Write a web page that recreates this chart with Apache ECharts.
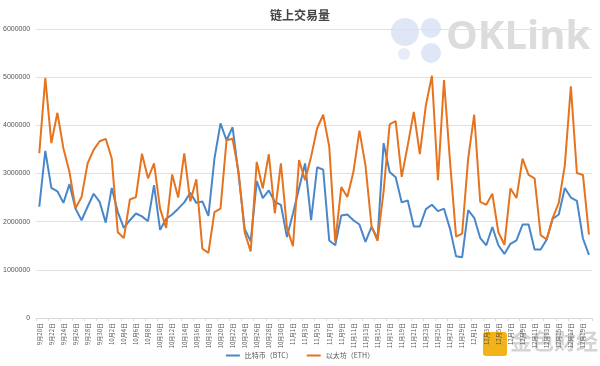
<!DOCTYPE html>
<html><head><meta charset="utf-8">
<script src="https://cdn.jsdelivr.net/npm/echarts@6/dist/echarts.min.js"></script>
<style>html,body{margin:0;padding:0;background:#fff}#c{width:600px;height:366px}</style>
</head><body><div id="c"></div>
<script>
// Categories: daily dates 9月20日 .. 12月20日
const monthDays = [[9, 20, 30], [10, 1, 31], [11, 1, 30], [12, 1, 20]];
const categories = [];
monthDays.forEach(([m, a, b]) => { for (let d = a; d <= b; d++) categories.push(m + '月' + d + '日'); });

const seriesNames = ['比特币（BTC）', '以太坊（ETH）'];
const yTicks = [0, 1000000, 2000000, 3000000, 4000000, 5000000, 6000000];

// values in millions
const btcM = [2.31,3.47,2.70,2.63,2.39,2.78,2.27,2.03,2.31,2.58,2.41,1.98,2.70,2.20,1.87,2.03,2.17,2.11,2.01,2.76,
1.83,2.06,2.15,2.27,2.40,2.60,2.39,2.42,2.12,3.31,4.04,3.69,3.96,2.97,1.85,1.59,2.84,2.49,2.65,2.41,
2.35,1.68,2.17,2.69,3.21,2.03,3.13,3.08,1.61,1.51,2.13,2.15,2.03,1.94,1.58,1.89,1.65,3.63,3.03,2.92,
2.40,2.44,1.90,1.90,2.26,2.35,2.22,2.27,1.85,1.28,1.26,2.24,2.08,1.66,1.51,1.89,1.51,1.33,1.54,1.61,
1.94,1.94,1.42,1.42,1.63,2.06,2.15,2.70,2.50,2.43,1.65,1.31];
const ethM = [3.42,4.98,3.63,4.26,3.52,3.03,2.28,2.51,3.21,3.49,3.67,3.72,3.31,1.78,1.66,2.46,2.51,3.41,2.90,3.21,
2.27,1.87,2.98,2.50,3.42,2.42,2.88,1.44,1.35,2.20,2.27,3.69,3.72,3.03,1.78,1.38,3.24,2.69,3.40,2.17,
3.21,1.87,1.49,3.28,2.86,3.35,3.94,4.22,3.56,1.58,2.72,2.51,3.03,3.89,3.17,1.91,1.60,2.63,4.02,4.09,
2.93,3.59,4.28,3.40,4.42,5.03,2.86,4.94,3.24,1.69,1.75,3.31,4.22,2.41,2.35,2.58,1.78,1.52,2.69,2.49,
3.31,2.97,2.90,1.72,1.63,2.08,2.39,3.17,4.81,3.01,2.97,1.73];
const btc = btcM.map(v => Math.round(v * 1e6));
const eth = ethM.map(v => Math.round(v * 1e6));

const chart = echarts.init(document.getElementById('c'), null, {renderer: 'canvas'});
chart.setOption({
  animation: false,
  backgroundColor: '#fff',
  title: {text: '链上交易量', left: 'center', top: 4,
    textStyle: {fontSize: 12, fontWeight: 'bold', color: '#444', fontFamily: 'Noto Sans CJK SC'}},
  graphic: [
    {type: 'circle', shape: {cx: 405, cy: 32, r: 14}, style: {fill: '#dfe7f7'}, z: 0},
    {type: 'circle', shape: {cx: 431, cy: 28, r: 10}, style: {fill: '#dfe7f7'}, z: 0},
    {type: 'circle', shape: {cx: 431, cy: 53, r: 10}, style: {fill: '#dfe7f7'}, z: 0},
    {type: 'circle', shape: {cx: 404, cy: 54, r: 6}, style: {fill: '#e6ecf8'}, z: 0},
    {type: 'text', left: 446, top: 18, z: 0,
      style: {text: 'OKLink', font: 'bold 40px "Open Sans", sans-serif', fill: '#dcdcdc'}},
    {type: 'rect', shape: {x: 483, y: 332, width: 24, height: 24, r: 3}, style: {fill: '#f2b21a'}, z: 0},
    {type: 'text', left: 510, top: 330, z: 0,
      style: {text: '金色财经', font: 'bold 22px "Noto Sans CJK SC"', fill: '#d4d4d4'}}
  ],
  legend: {bottom: 2, left: 'center', itemWidth: 14, itemHeight: 2, itemGap: 14,
    icon: 'rect', textStyle: {fontSize: 7, color: '#555', fontFamily: 'Noto Sans CJK SC'},
    data: seriesNames},
  grid: {left: 33, right: 8, top: 29, bottom: 48},
  xAxis: {type: 'category', data: categories, boundaryGap: true,
    axisLine: {lineStyle: {color: '#d9d9d9'}},
    axisTick: {show: true, lineStyle: {color: '#d9d9d9'}, length: 3},
    axisLabel: {rotate: 90, interval: 1, fontSize: 6, color: '#555', margin: 5,
      fontFamily: 'Noto Sans CJK SC'}},
  yAxis: {type: 'value', min: yTicks[0], max: yTicks[yTicks.length - 1], interval: 1000000,
    axisLine: {show: false}, axisTick: {show: false},
    splitLine: {lineStyle: {color: '#e0e0e0'}},
    axisLabel: {fontSize: 7, color: '#555', margin: 6,
      formatter: v => yTicks.includes(v) ? String(v) : ''}},
  series: [
    {name: seriesNames[0], type: 'line', data: btc, symbol: 'none',
      lineStyle: {width: 2, color: '#4a87c9'}, itemStyle: {color: '#4a87c9'}},
    {name: seriesNames[1], type: 'line', data: eth, symbol: 'none',
      lineStyle: {width: 2, color: '#e6731e'}, itemStyle: {color: '#e6731e'}}
  ]
});
</script></body></html>
